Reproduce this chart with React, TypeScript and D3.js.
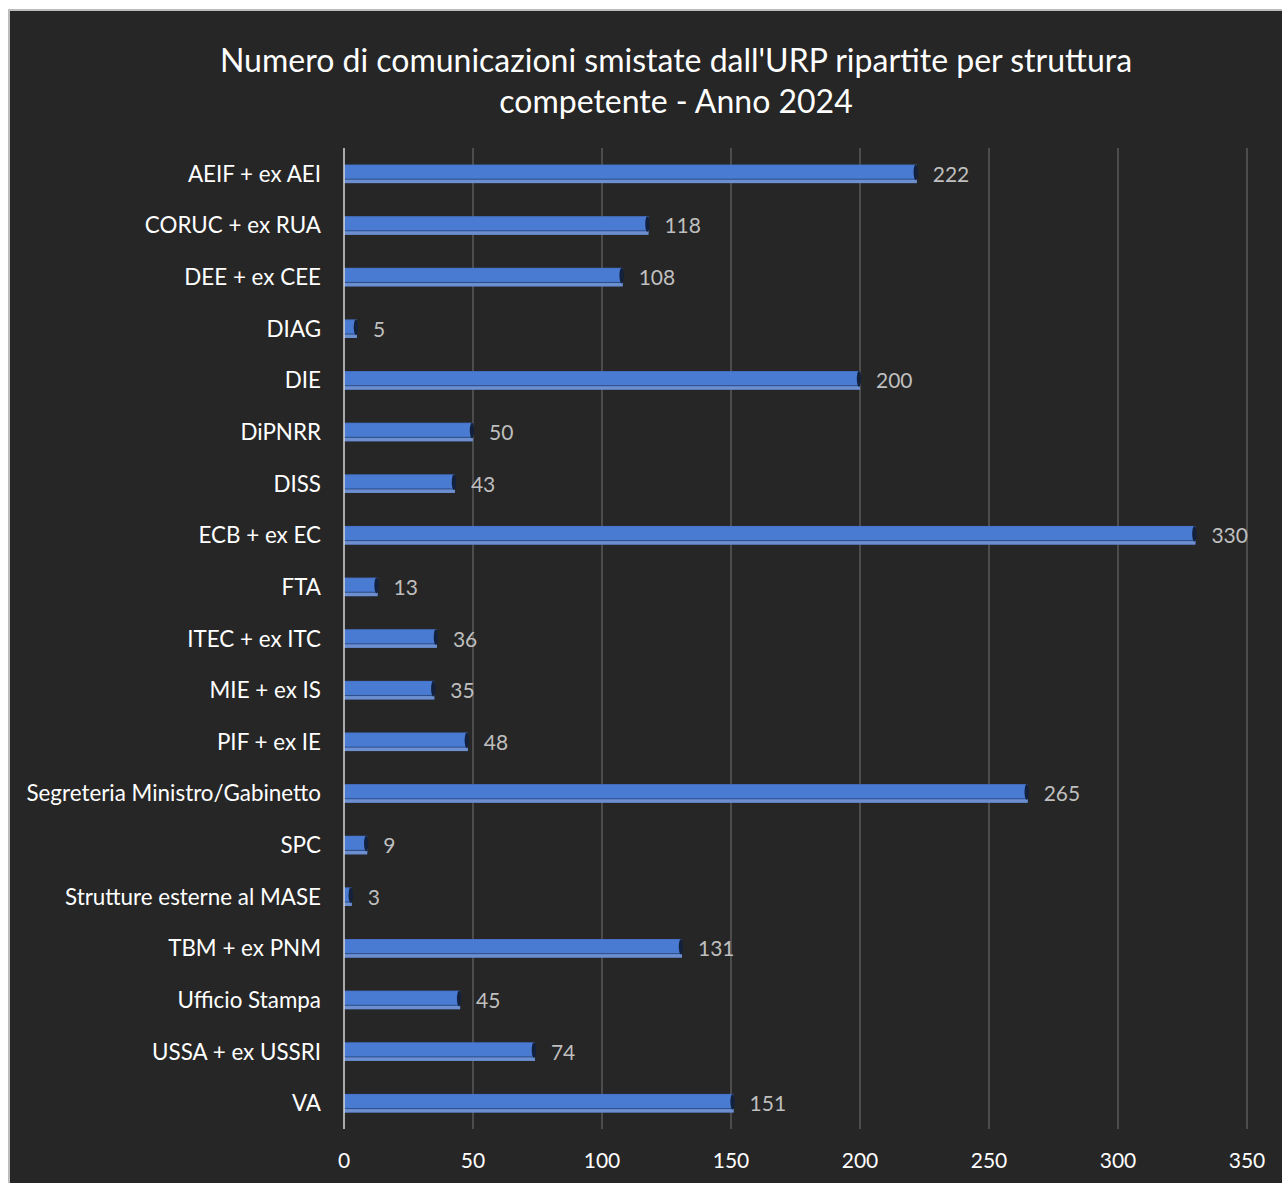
import React, { useEffect, useRef } from "react";
import * as d3 from "d3";

const categories = [
  "AEIF + ex AEI",
  "CORUC + ex RUA",
  "DEE + ex CEE",
  "DIAG",
  "DIE",
  "DiPNRR",
  "DISS",
  "ECB + ex EC",
  "FTA",
  "ITEC + ex ITC",
  "MIE + ex IS",
  "PIF + ex IE",
  "Segreteria Ministro/Gabinetto",
  "SPC",
  "Strutture esterne al MASE",
  "TBM + ex PNM",
  "Ufficio Stampa",
  "USSA + ex USSRI",
  "VA",
];

const values = [222, 118, 108, 5, 200, 50, 43, 330, 13, 36, 35, 48, 265, 9, 3, 131, 45, 74, 151];

const xTicks = [0, 50, 100, 150, 200, 250, 300, 350];

const titleLines = [
  "Numero di comunicazioni smistate dall'URP ripartite per struttura",
  "competente - Anno 2024",
];

const W = 1282;
const H = 1183;
const FONT = "Lato, 'Open Sans', sans-serif";

export default function App() {
  const ref = useRef<SVGSVGElement>(null);

  useEffect(() => {
    const svg = d3.select(ref.current);
    svg.selectAll("*").remove();

    // page + panel
    svg.append("rect").attr("width", W).attr("height", H).attr("fill", "#ffffff");
    svg.append("rect").attr("x", 8).attr("y", 9).attr("width", W - 8).attr("height", H - 9).attr("fill", "#bdbdbd");
    svg.append("rect").attr("x", 10).attr("y", 11).attr("width", W - 10).attr("height", H - 11).attr("fill", "#262626");

    const x = d3.scaleLinear().domain([0, 350]).range([344, 1247]);
    const y = d3.scaleBand<string>().domain(categories).range([148, 1129]).paddingInner(0.64).paddingOuter(0.32);

    // title
    const title = svg.append("text")
      .attr("text-anchor", "middle")
      .attr("fill", "#ffffff")
      .attr("font-family", FONT)
      .attr("font-size", 32)
      .attr("textLength", null);
    titleLines.forEach((t, i) => {
      title.append("tspan").attr("x", 676).attr("y", 72 + i * 41).text(t);
    });

    // vertical gridlines
    svg.append("g")
      .selectAll("line")
      .data(xTicks.slice(1))
      .join("line")
      .attr("x1", (d) => x(d))
      .attr("x2", (d) => x(d))
      .attr("y1", 148)
      .attr("y2", 1129)
      .attr("stroke", "#5a5a5a")
      .attr("stroke-width", 1.5);

    // x tick labels
    svg.append("g")
      .selectAll("text")
      .data(xTicks)
      .join("text")
      .attr("x", (d) => x(d))
      .attr("y", 1168)
      .attr("text-anchor", "middle")
      .attr("fill", "#ffffff")
      .attr("font-family", FONT)
      .attr("font-size", 21)
      .text((d) => d);

    // bars
    const bh = y.bandwidth();
    const bars = svg.append("g")
      .selectAll("g")
      .data(categories.map((c, i) => ({ c, v: values[i] })))
      .join("g")
      .attr("transform", (d) => `translate(0,${y(d.c)})`);

    bars.append("rect")
      .attr("x", x(0))
      .attr("y", 0)
      .attr("width", (d) => x(d.v) - x(0))
      .attr("height", bh)
      .attr("fill", "#4673c8");
    bars.append("rect")
      .attr("x", x(0))
      .attr("y", 1)
      .attr("width", (d) => x(d.v) - x(0))
      .attr("height", bh * 0.72)
      .attr("fill", "#4a7bd3");
    bars.append("rect")
      .attr("x", x(0))
      .attr("y", bh * 0.76)
      .attr("width", (d) => x(d.v) - x(0))
      .attr("height", 1.2)
      .attr("fill", "#2f4f88");
    bars.append("rect")
      .attr("x", x(0))
      .attr("y", bh * 0.82)
      .attr("width", (d) => x(d.v) - x(0))
      .attr("height", bh * 0.18)
      .attr("fill", "#6d8fcf");
    // dark end cap
    bars.append("ellipse")
      .attr("cx", (d) => x(d.v) - 1)
      .attr("cy", bh * 0.42)
      .attr("rx", 2.2)
      .attr("ry", bh * 0.42)
      .attr("fill", "#13213d");

    // value labels
    bars.append("text")
      .attr("x", (d) => x(d.v) + 16)
      .attr("y", bh / 2 + 8)
      .attr("fill", "#bfbfbf")
      .attr("font-family", FONT)
      .attr("font-size", 21)
      .text((d) => d.v);

    // axis line at zero
    svg.append("line")
      .attr("x1", x(0))
      .attr("x2", x(0))
      .attr("y1", 148)
      .attr("y2", 1129)
      .attr("stroke", "#d9d9d9")
      .attr("stroke-width", 1.5);

    // category labels
    svg.append("g")
      .selectAll("text")
      .data(categories)
      .join("text")
      .attr("x", 321)
      .attr("y", (d) => (y(d) as number) + bh / 2 + 8)
      .attr("text-anchor", "end")
      .attr("fill", "#ffffff")
      .attr("font-family", FONT)
      .attr("font-size", 22.4)
      .text((d) => d);
  }, []);

  return (
    <svg
      ref={ref}
      width={W}
      height={H}
      style={{ position: "absolute", left: 0, top: 0, display: "block" }}
    />
  );
}
